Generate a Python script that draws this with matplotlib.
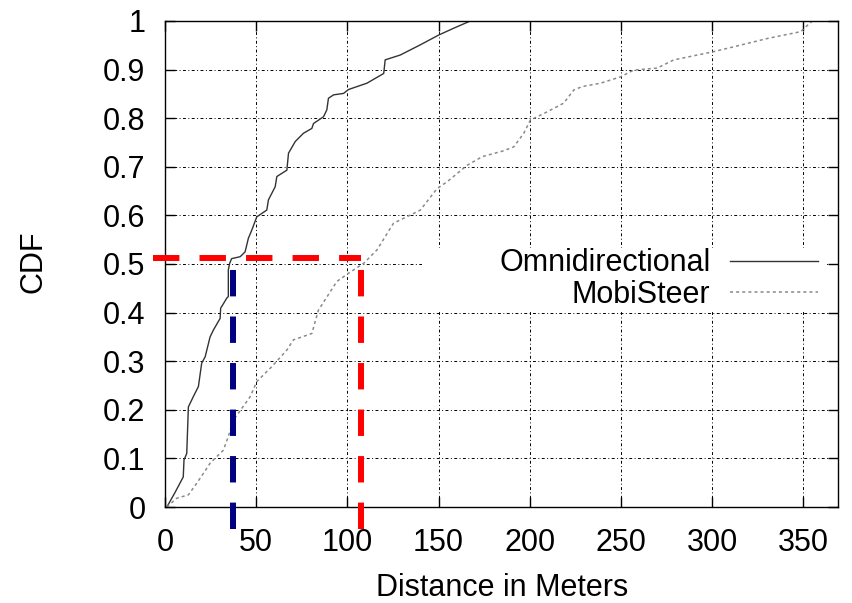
#!/usr/bin/env python3
"""CDF of distance: Omnidirectional vs MobiSteer, with median markers."""
import matplotlib
matplotlib.use("Agg")
import matplotlib.pyplot as plt
from matplotlib.patches import Rectangle
import numpy as np

# ---- data ----
omni_x = [1, 5.5, 10, 10.4, 11.9, 12.8, 15.5, 18.3, 20.1, 22, 24.7, 26.5,
          30.2, 30.5, 33.9, 34.7, 34.7, 35.5, 36.5, 41.2, 43.9, 45.7, 47.6,
          50.3, 55.8, 56.7, 60.4, 61.3, 66.8, 67.7, 71.4, 75.9, 80.5, 81.4,
          86.9, 88.7, 89.6, 92.4, 97.9, 100.6, 110.7, 119.9, 120.7, 129,
          140, 150, 158.2, 167.4]
omni_y = [0, 0.03, 0.062, 0.097, 0.11, 0.206, 0.227, 0.248, 0.296, 0.309,
          0.35, 0.364, 0.388, 0.409, 0.43, 0.433, 0.488, 0.502, 0.511, 0.515,
          0.525, 0.553, 0.57, 0.597, 0.611, 0.632, 0.659, 0.68, 0.693, 0.728,
          0.752, 0.769, 0.779, 0.789, 0.803, 0.817, 0.841, 0.848, 0.851,
          0.859, 0.872, 0.892, 0.92, 0.93, 0.951, 0.971, 0.985, 1.0]

mobi_x = [1, 6.4, 12.8, 17.4, 21, 24.7, 32, 34.7, 37.5, 40.2, 46.7, 50.3,
          58.6, 66.8, 70.4, 80.5, 82.3, 84.1, 94.2, 100.6, 108.8, 116.2,
          125.3, 136.3, 140, 149.1, 154.6, 165.6, 174, 185.7, 191.2, 196.7,
          200.3, 209.5, 218.6, 224.1, 228.7, 238.8, 249.7, 257, 269.8, 279,
          300.9, 311.9, 330.3, 348.5, 351.3, 355]
mobi_y = [0, 0.018, 0.025, 0.049, 0.069, 0.09, 0.117, 0.145, 0.179, 0.193,
          0.227, 0.258, 0.289, 0.323, 0.344, 0.357, 0.381, 0.405, 0.464,
          0.481, 0.501, 0.529, 0.584, 0.604, 0.611, 0.655, 0.669, 0.703,
          0.721, 0.733, 0.741, 0.769, 0.796, 0.813, 0.831, 0.858, 0.865,
          0.872, 0.885, 0.899, 0.903, 0.92, 0.937, 0.947, 0.964, 0.978,
          0.988, 1.0]

MEDIAN_LEVEL = 0.513
OMNI_MEDIAN = 37.3
MOBI_MEDIAN = 107.6

plt.rcParams.update({
    "font.family": ["Liberation Sans", "DejaVu Sans"],
    "font.size": 22,
})

fig = plt.figure(figsize=(8.52, 6.03), dpi=100)
ax = fig.add_axes([0.1937, 0.1592, 0.7899, 0.806])

ax.plot(omni_x, omni_y, color="#333333", lw=1.0, label="Omnidirectional", zorder=2)
ax.plot(mobi_x, mobi_y, color="#8a8a8a", lw=1.1, ls=(0, (2, 2)),
        label="MobiSteer", zorder=2)

# median guides (spill outside the axes like the original)
dash = (0, (4.42, 3.37))
ax.plot([-6.6, MOBI_MEDIAN], [MEDIAN_LEVEL, MEDIAN_LEVEL], color="red",
        lw=4.3, ls=dash, clip_on=False, zorder=4)
ax.plot([MOBI_MEDIAN, MOBI_MEDIAN], [-0.045, 0.49], color="red",
        lw=4.3, ls=dash, clip_on=False, zorder=4)
ax.plot([OMNI_MEDIAN, OMNI_MEDIAN], [-0.045, 0.49], color="#000080",
        lw=4.3, ls=dash, clip_on=False, zorder=4)

ax.set_xlim(0, 369)
ax.set_ylim(0, 1)
ax.set_xticks(np.arange(0, 351, 50))
ax.set_yticks(np.round(np.arange(0, 1.01, 0.1), 1))
ax.set_yticklabels(["0"] + [f"{v:.1f}" for v in np.arange(0.1, 0.95, 0.1)] + ["1"])

ax.grid(True, color="black", lw=0.7, ls=(0, (3, 2.5, 1, 2.5)))
ax.tick_params(direction="in", top=True, right=True, length=7, width=1)
ax.tick_params(axis="y", pad=14)
ax.tick_params(axis="x", pad=15)
for s in ax.spines.values():
    s.set_linewidth(1.0)

# white key box blanks out the grid behind the legend
ax.add_patch(Rectangle((0.382, 0.404), 0.600, 0.129, transform=ax.transAxes,
                       facecolor="white", edgecolor="none", zorder=1.7))

leg = ax.legend(loc="center right", bbox_to_anchor=(0.970, 0.469),
                frameon=False, markerfirst=False, handlelength=2.87,
                handletextpad=0.65, labelspacing=0.05, borderpad=0,
                borderaxespad=0, fontsize=22)
for t in leg.get_texts():
    t.set_ha("right")

ax.set_xlabel("Distance in Meters")
ax.set_ylabel("CDF")
ax.xaxis.set_label_coords(0.5015, -0.167)
ax.xaxis.label.set_va("center")
ax.yaxis.set_label_coords(-0.196, 0.504)
ax.yaxis.label.set_va("center")

fig.savefig("out.png", dpi=100)
